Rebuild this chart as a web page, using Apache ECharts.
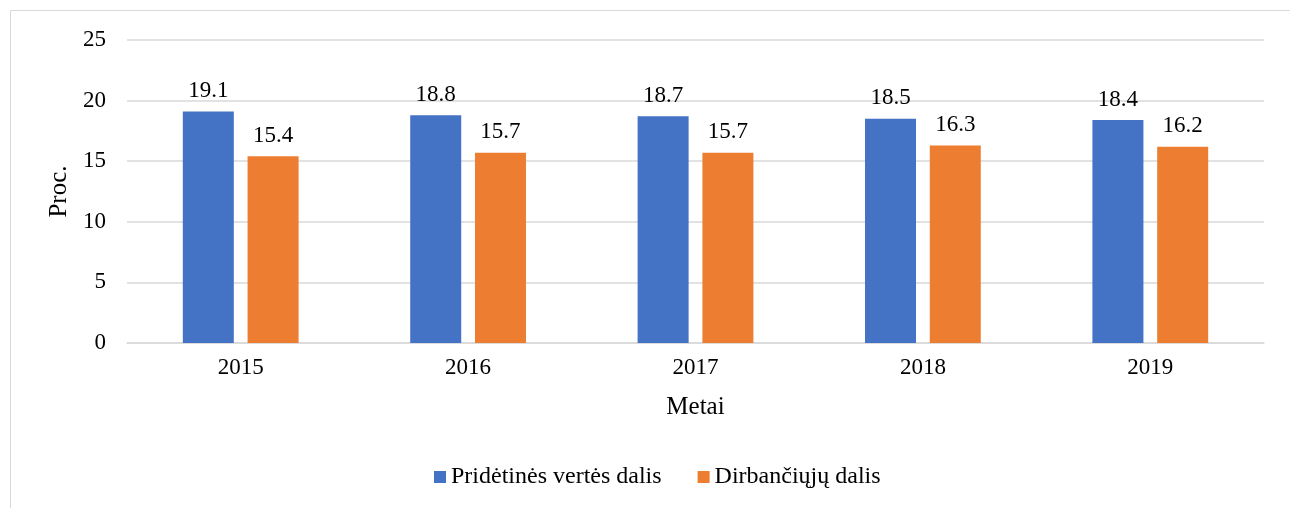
<!DOCTYPE html>
<html><head><meta charset="utf-8">
<script src="https://cdn.jsdelivr.net/npm/echarts@6/dist/echarts.min.js"></script>
<style>html,body{margin:0;padding:0;background:#fff}#c{width:1290px;height:508px}</style>
</head><body><div id="c"></div>
<script>
const categories = ['2015','2016','2017','2018','2019'];
const seriesNames = ['Pridėtinės vertės dalis','Dirbančiųjų dalis'];
const addedValue = [19.1, 18.8, 18.7, 18.5, 18.4];
const workers = [15.4, 15.7, 15.7, 16.3, 16.2];
const yAxisName = 'Proc.';
const xAxisName = 'Metai';

const font = "'Liberation Serif', 'Times New Roman', serif";
const chart = echarts.init(document.getElementById('c'));
const lbl = {show:true, position:'top', distance:9, color:'#000', fontFamily:font, fontSize:23, formatter:p=>p.value.toFixed(1)};
chart.setOption({
  animation:false,
  textStyle:{fontFamily:font},
  graphic:[{type:'rect', shape:{x:10.5,y:10.5,width:1400,height:600}, style:{fill:'none', stroke:'#d9d9d9', lineWidth:1}, silent:true, z:-10}],
  grid:{left:127, right:26, top:40, bottom:165},
  xAxis:{type:'category', data:categories, name:xAxisName, nameLocation:'middle', nameGap:52,
    nameTextStyle:{fontFamily:font, fontSize:25, color:'#000'},
    axisLine:{lineStyle:{color:'#d9d9d9', width:1.5}}, axisTick:{show:false},
    axisLabel:{fontFamily:font, fontSize:23, color:'#000', margin:13}},
  yAxis:{type:'value', min:0, max:25, interval:5, name:yAxisName, nameLocation:'middle', nameGap:53,
    nameTextStyle:{fontFamily:font, fontSize:25, color:'#000'},
    axisLine:{show:false}, axisTick:{show:false},
    splitLine:{lineStyle:{color:'#d9d9d9', width:1.5}},
    axisLabel:{fontFamily:font, fontSize:23, color:'#000', margin:21}},
  legend:{bottom:19, left:434, padding:0, itemWidth:12, itemHeight:12, itemGap:36,
    formatter:'{s|{name}}',
    textStyle:{fontFamily:font, fontSize:24, color:'#000', rich:{s:{fontFamily:font, fontSize:24, color:'#000'}}}, icon:'rect'},
  series:[
    {name:seriesNames[0], type:'bar', data:addedValue, barWidth:51, barGap:'27%', itemStyle:{color:'#4472c4'}, label:lbl},
    {name:seriesNames[1], type:'bar', data:workers, barWidth:51, itemStyle:{color:'#ed7d31'}, label:lbl}
  ]
});
</script></body></html>
